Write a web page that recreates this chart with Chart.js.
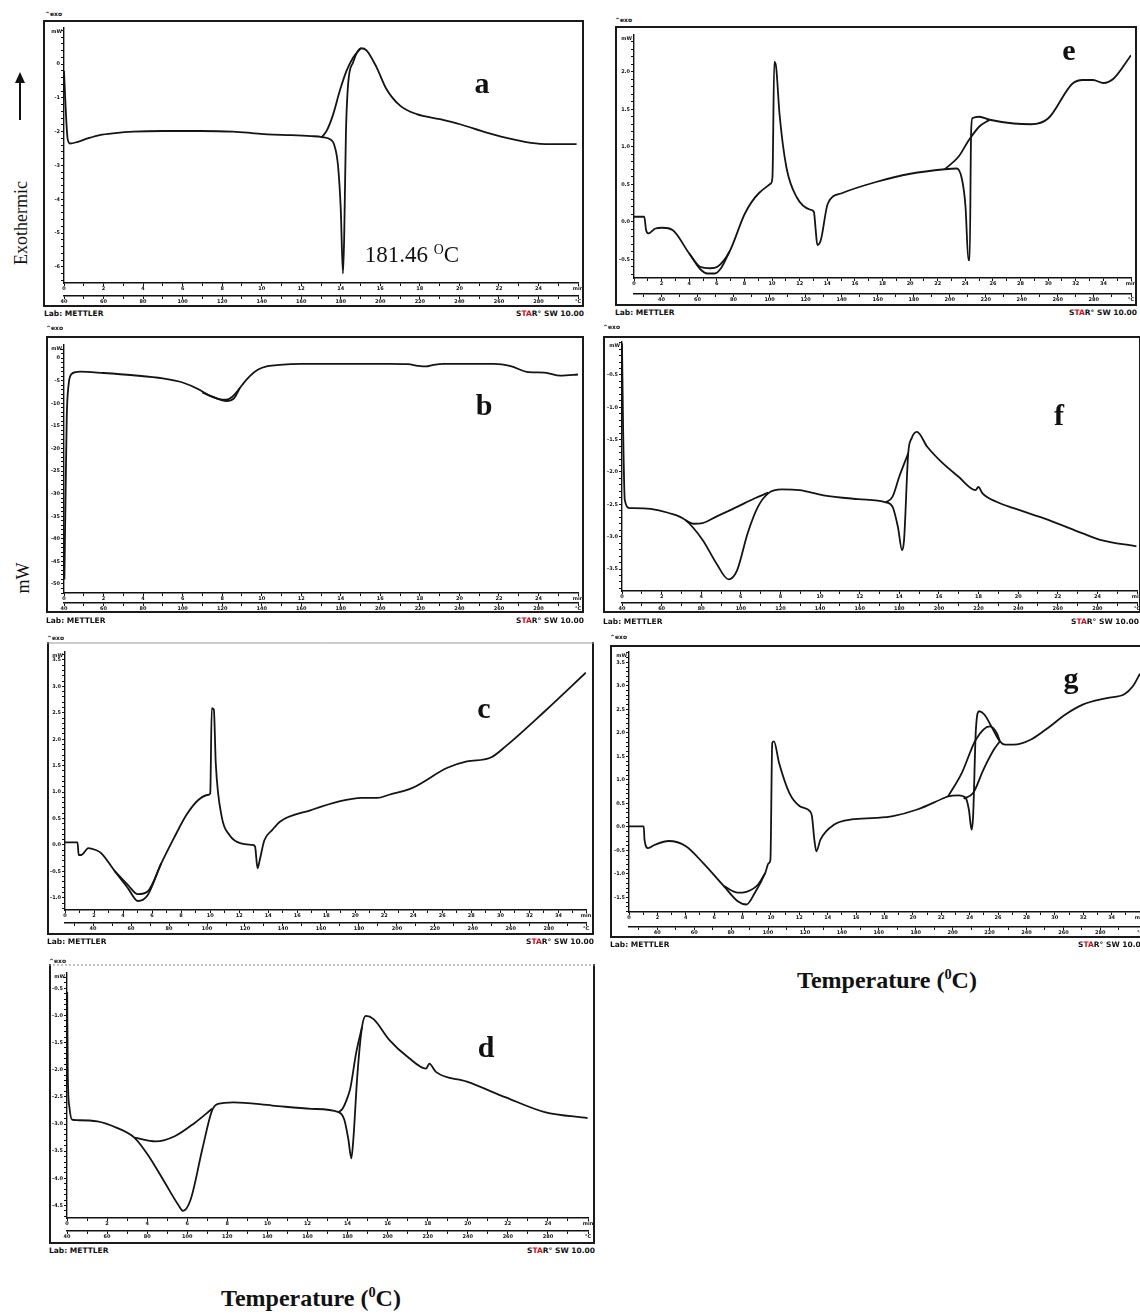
<!DOCTYPE html>
<html>
<head>
<meta charset="utf-8">
<title>DSC thermograms a-g</title>
<script src="https://cdn.jsdelivr.net/npm/chart.js@4.4.1/dist/chart.umd.min.js"></script>
<style>
  html, body { margin: 0; padding: 0; background: #fff; }
  body { position: relative; width: 1140px; height: 1314px; overflow: hidden; font-family: "Liberation Serif", "Times New Roman", serif; color: #111; }
  canvas { position: absolute; }
  .tag { position: absolute; font-family: "DejaVu Sans", sans-serif; font-weight: bold; font-size: 7.5px; line-height: 8px; white-space: nowrap; }
  .exo { font-size: 6px; }
  .red { color: #c8101c; }
  .letter { position: absolute; font-weight: bold; font-size: 30px; line-height: 30px; transform: translate(-50%, -50%); }
  .title { position: absolute; font-weight: bold; font-size: 24px; line-height: 26px; white-space: nowrap; transform: translate(-50%, -50%); }
  .side { position: absolute; font-size: 18px; line-height: 20px; white-space: nowrap; transform: translate(-50%, -50%) rotate(-90deg); }
  sup { font-size: 60%; vertical-align: 0.6em; line-height: 0; }
</style>
</head>
<body>

<!-- left-hand axis words -->
<div style="position:absolute;left:19px;top:82px;width:2px;height:38px;background:#111"></div>
<div style="position:absolute;left:15px;top:72px;width:0;height:0;border-left:5px solid transparent;border-right:5px solid transparent;border-bottom:11px solid #111"></div>
<div class="side" style="left:21px;top:223px">Exothermic</div>
<div class="side" style="left:23px;top:578px">mW</div>

<!-- instrument captions -->
<div class="tag exo" style="left:45px;top:10px">^exo</div>
<div class="tag exo" style="left:46px;top:324px">^exo</div>
<div class="tag exo" style="left:47px;top:634px">^exo</div>
<div class="tag exo" style="left:49px;top:957px">^exo</div>
<div class="tag exo" style="left:615px;top:16px">^exo</div>
<div class="tag exo" style="left:603px;top:323px">^exo</div>
<div class="tag exo" style="left:610px;top:633px">^exo</div>

<div class="tag" style="left:44px;top:310px">Lab: METTLER</div>
<div class="tag" style="left:46px;top:617px">Lab: METTLER</div>
<div class="tag" style="left:47px;top:938px">Lab: METTLER</div>
<div class="tag" style="left:49px;top:1247px">Lab: METTLER</div>
<div class="tag" style="left:615px;top:309px">Lab: METTLER</div>
<div class="tag" style="left:603px;top:618px">Lab: METTLER</div>
<div class="tag" style="left:610px;top:941px">Lab: METTLER</div>

<div class="tag" style="right:556px;top:310px">S<span class="red">TA</span>R° SW 10.00</div>
<div class="tag" style="right:556px;top:617px">S<span class="red">TA</span>R° SW 10.00</div>
<div class="tag" style="right:546px;top:938px">S<span class="red">TA</span>R° SW 10.00</div>
<div class="tag" style="right:545px;top:1247px">S<span class="red">TA</span>R° SW 10.00</div>
<div class="tag" style="right:3px;top:309px">S<span class="red">TA</span>R° SW 10.00</div>
<div class="tag" style="right:1px;top:618px">S<span class="red">TA</span>R° SW 10.00</div>
<div class="tag" style="right:-6px;top:941px">S<span class="red">TA</span>R° SW 10.00</div>

<div class="title" style="left:311px;top:1298px">Temperature (<sup>0</sup>C)</div>
<div class="title" style="left:887px;top:980px">Temperature (<sup>0</sup>C)</div>

<script>
'use strict';

// ---- panel a ----
const aTemp = [40.0, 40.6, 41.8, 43, 47, 52, 58, 66, 75, 90, 109, 125.5, 135, 143, 155, 165, 170.5, 175, 176.5, 178.6, 180, 181.1, 181.7, 182.6, 183.7, 186.2, 190.2, 193, 198, 203, 210, 218.4, 230.2, 240.3, 253.8, 267.3, 280.8, 299.3];
const aHeat = [-0.2, -1.0, -2.2, -2.35, -2.3, -2.2, -2.1, -2.04, -2.0, -1.98, -1.98, -2.0, -2.04, -2.08, -2.1, -2.13, -2.16, -2.24, -2.36, -3.0, -4.3, -6.2, -5.2, -2.07, -0.6, 0.05, 0.47, 0.41, -0.08, -0.73, -1.23, -1.48, -1.63, -1.78, -2.03, -2.23, -2.36, -2.37];
const aBaseTemp = [170.5, 172.9, 176.2, 179.5, 182.9, 186.2, 190.2];
const aBaseHeat = [-2.16, -1.97, -1.48, -0.79, -0.2, 0.19, 0.47];
const aYTicks = [0, -1, -2, -3, -4, -5, -6];

// ---- panel b ----
const bTemp = [40.2, 40.8, 41.4, 42.3, 43.5, 46, 48, 60, 75, 90, 100, 108, 113, 118, 122, 125, 127, 130, 134, 138, 143, 149, 160, 180, 205, 214, 219, 223, 227, 232, 257.5, 266, 275, 283, 291, 301];
const bHeat = [-49, -30, -13, -6, -3.7, -3.1, -3.0, -3.3, -3.8, -4.5, -5.4, -6.9, -8.2, -9.0, -9.2, -8.6, -7.7, -6.0, -4.0, -2.6, -1.8, -1.5, -1.3, -1.3, -1.3, -1.35, -1.7, -1.85, -1.5, -1.3, -1.3, -1.8, -3.1, -3.2, -3.9, -3.6];
const bBaseTemp = [110, 116, 122, 126, 129];
const bBaseHeat = [-7.6, -8.7, -9.5, -8.9, -6.6];
const bYTicks = [0, -5, -10, -15, -20, -25, -30, -35, -40, -45, -50];

// ---- panel c ----
const cTemp = [25.2, 31.8, 32.4, 33.8, 37.5, 41, 44.1, 51.3, 58.4, 63.6, 68.7, 75.9, 83.0, 89.2, 95.4, 100.9, 101.7, 102.5, 103.6, 104.6, 107.7, 111.8, 117.9, 124.1, 125.3, 126.6, 127.8, 130.2, 134.3, 138.4, 154.8, 169.2, 181.5, 189.7, 195.9, 208.2, 226.6, 236.9, 249.2, 257.4, 277.9, 299.5];
const cHeat = [0.05, 0.05, -0.19, -0.19, -0.06, -0.09, -0.15, -0.49, -0.82, -1.06, -0.95, -0.35, 0.16, 0.57, 0.85, 0.95, 0.98, 2.59, 2.56, 1.55, 0.54, 0.19, 0.03, 0.0, -0.03, -0.44, -0.28, 0.09, 0.28, 0.44, 0.66, 0.82, 0.89, 0.89, 0.95, 1.08, 1.46, 1.58, 1.65, 1.87, 2.53, 3.26];
const cDipTemp = [51.3, 58.4, 63.6, 68.7, 75.9];
const cDipHeat = [-0.49, -0.76, -0.93, -0.88, -0.35];
const cYTicks = [3.5, 3.0, 2.5, 2.0, 1.5, 1.0, 0.5, 0.0, -0.5, -1.0];

// ---- panel d ----
const dTemp = [40.1, 40.4, 41.2, 42.5, 45, 55.1, 64.9, 73.6, 80.4, 88.2, 95.9, 97.9, 101.7, 107.6, 112.4, 115.3, 123.1, 142.5, 161.9, 175.5, 178.4, 180.4, 181.9, 182.9, 184.9, 187.2, 189.1, 193, 200.8, 210.5, 219.2, 220.8, 224.1, 239.6, 259, 278.4, 299.8];
const dHeat = [-0.57, -2.1, -2.69, -2.92, -2.93, -2.95, -3.07, -3.25, -3.57, -4.04, -4.51, -4.6, -4.39, -3.45, -2.75, -2.63, -2.6, -2.66, -2.72, -2.78, -2.92, -3.28, -3.63, -3.28, -2.1, -1.22, -1.01, -1.07, -1.45, -1.78, -1.98, -1.89, -2.04, -2.22, -2.51, -2.78, -2.89];
const dBase1Temp = [73.6, 84.3, 94, 103.7, 112.4];
const dBase1Heat = [-3.25, -3.32, -3.22, -2.98, -2.72];
const dBase2Temp = [175.5, 177.5, 179.4, 181.4, 184.3, 187.2];
const dBase2Heat = [-2.78, -2.72, -2.57, -2.34, -1.69, -1.22];
const dYTicks = [-0.5, -1.0, -1.5, -2.0, -2.5, -3.0, -3.5, -4.0, -4.5];

// ---- panel e ----
const eTemp = [24.7, 30.4, 31.4, 32.7, 36.6, 40.4, 46.1, 55.3, 61.4, 67.2, 71, 77.7, 86.3, 94, 100.7, 101.6, 102.6, 103.6, 105.5, 109.3, 115, 122.7, 124.6, 125.6, 126.5, 128.5, 132.3, 140, 159.1, 178.2, 197.3, 204, 206.9, 208.8, 210.4, 211.1, 211.9, 212.6, 216.5, 222.2, 235.6, 245.2, 254.8, 268.1, 273.9, 279.6, 285.4, 291.1, 300.7];
const eHeat = [0.067, 0.067, -0.11, -0.155, -0.09, -0.08, -0.11, -0.42, -0.6, -0.62, -0.6, -0.4, 0.11, 0.38, 0.51, 0.6, 2.13, 2.07, 1.44, 0.73, 0.33, 0.16, 0.13, -0.11, -0.31, -0.24, 0.24, 0.38, 0.53, 0.64, 0.70, 0.71, 0.56, 0.2, -0.51, -0.51, 1.18, 1.38, 1.4, 1.36, 1.31, 1.3, 1.38, 1.84, 1.89, 1.89, 1.85, 1.91, 2.22];
const eDipTemp = [55.3, 61.4, 65.5, 69.5, 73, 77.7];
const eDipHeat = [-0.42, -0.63, -0.69, -0.69, -0.62, -0.4];
const eBaseTemp = [197.3, 205, 210.7, 216.5, 222.2];
const eBaseHeat = [0.70, 0.87, 1.09, 1.27, 1.36];
const eYTicks = [2.0, 1.5, 1.0, 0.5, 0.0, -0.5];

// ---- panel f ----
const fTemp = [40, 40.5, 41.4, 44, 45.8, 54.5, 63.2, 71.9, 80.7, 87.6, 93.8, 98.1, 103.4, 108.6, 113.8, 120.8, 129.5, 141.7, 159.2, 173.2, 176.6, 179.3, 181.4, 182.4, 184.5, 186.2, 188.9, 194.1, 201.1, 209.8, 218.5, 219.9, 222, 229, 237.7, 255.2, 272.6, 281.4, 299.7];
const fHeat = [-0.01, -1.2, -2.43, -2.56, -2.56, -2.57, -2.63, -2.74, -3.05, -3.41, -3.66, -3.52, -2.95, -2.54, -2.33, -2.27, -2.28, -2.36, -2.42, -2.47, -2.54, -2.85, -3.21, -3.05, -1.71, -1.48, -1.38, -1.61, -1.84, -2.07, -2.28, -2.23, -2.33, -2.46, -2.56, -2.74, -2.95, -3.05, -3.15];
const fBase1Temp = [71.9, 76, 80.7, 87.6, 98.1, 106.8, 113.8];
const fBase1Heat = [-2.74, -2.8, -2.79, -2.69, -2.54, -2.41, -2.32];
const fBase2Temp = [173.2, 176.6, 180, 184.5];
const fBase2Heat = [-2.47, -2.38, -2.07, -1.71];
const fYTicks = [-0.5, -1.0, -1.5, -2.0, -2.5, -3.0, -3.5];

// ---- panel g ----
const gTemp = [24.7, 32.7, 33.1, 35, 38.7, 46.2, 55.5, 64.9, 76.1, 83.6, 88.3, 92.9, 98.5, 100.4, 101.3, 102.3, 103.2, 106, 111.6, 117.2, 122.8, 123.8, 125.1, 126.2, 128.4, 135.9, 145.3, 158.3, 167.7, 180.8, 195.7, 197.6, 203.2, 207, 208.8, 210.3, 211.1, 212.6, 214.4, 217.2, 221.9, 225.6, 228.4, 233.1, 242.5, 251.8, 261.1, 270.5, 283.6, 293, 297.6, 301.5];
const gHeat = [0.01, 0.01, -0.27, -0.45, -0.38, -0.3, -0.41, -0.77, -1.26, -1.58, -1.65, -1.4, -0.98, -0.77, -0.7, 1.79, 1.82, 1.36, 0.72, 0.44, 0.33, 0.23, -0.27, -0.52, -0.27, 0.05, 0.16, 0.19, 0.23, 0.37, 0.62, 0.65, 0.67, 0.62, 0.37, -0.06, 0.23, 2.07, 2.46, 2.39, 2.07, 1.82, 1.75, 1.75, 1.86, 2.11, 2.39, 2.6, 2.74, 2.82, 2.99, 3.26];
const gDipTemp = [76.1, 83.6, 88.3, 94.5, 98.5];
const gDipHeat = [-1.26, -1.40, -1.38, -1.23, -0.98];
const gBase1Temp = [197.6, 205, 212.6, 220.1, 223.9, 225.6];
const gBase1Heat = [0.65, 1.15, 1.86, 2.14, 2.0, 1.82];
const gBase2Temp = [206, 211.1, 216.7, 222.3, 225.6];
const gBase2Heat = [0.6, 0.72, 1.22, 1.64, 1.82];
const gYTicks = [3.5, 3.0, 2.5, 2.0, 1.5, 1.0, 0.5, 0.0, -0.5, -1.0, -1.5];

// shared x tick labels (°C and min)
const degTicks = [40, 60, 80, 100, 120, 140, 160, 180, 200, 220, 240, 260, 280];
const minTicksShort = [0, 2, 4, 6, 8, 10, 12, 14, 16, 18, 20, 22, 24];
const minTicksLong = [0, 2, 4, 6, 8, 10, 12, 14, 16, 18, 20, 22, 24, 26, 28, 30, 32, 34];

function pts(xs, ys) {
    return xs.map((x, i) => ({ x: x, y: ys[i] }));
}

function steps(from, to, step) {
    const out = [];
    for (let k = Math.ceil(from / step - 1e-9); k * step <= to + 1e-9; k++) {
        out.push(+(k * step).toFixed(6));
    }
    return out;
}

function hasLabel(list, v) {
    return list.some(l => Math.abs(l - v) < 1e-6);
}

// minor ticks plus one tick at the right end that carries the unit
function unitTicks(lo, hi, step) {
    return steps(lo, hi - step * 0.5, step).concat([hi]).map(v => ({ value: v }));
}

// instrument-style frame round each panel, plus the mW tag
const framePlugin = {
    id: 'frame',
    afterDraw(chart, args, opts) {
        const ctx = chart.ctx;
        const w = chart.width, h = chart.height, area = chart.chartArea;
        ctx.save();
        ctx.strokeStyle = '#1a1a1a';
        ctx.lineWidth = 2;
        ctx.beginPath();
        ctx.moveTo(1, 0);
        ctx.lineTo(1, h - 1);
        ctx.lineTo(w - 1, h - 1);
        ctx.lineTo(w - 1, 0);
        ctx.stroke();
        if (opts.top === 'dash') {
            ctx.setLineDash([2, 2]);
            ctx.strokeStyle = '#8a8a8a';
            ctx.lineWidth = 1;
        } else if (opts.top === 'thin') {
            ctx.strokeStyle = '#9a9a9a';
            ctx.lineWidth = 1;
        }
        ctx.beginPath();
        ctx.moveTo(0, 1);
        ctx.lineTo(w, 1);
        ctx.stroke();
        ctx.setLineDash([]);
        ctx.fillStyle = '#111';
        ctx.font = 'bold 5px "DejaVu Sans"';
        ctx.textAlign = 'right';
        ctx.textBaseline = 'top';
        ctx.fillText('mW', area.left - 2, area.top + 1);
        ctx.restore();
    }
};

const panels = [
    { box: [43, 20, 584, 307], plot: [64, 28, 578, 283, 296], y: [-6.48, 1.07], yStep: 0.2, yLabels: aYTicks, yDec: 0,
      t: [40, 300], m: [0, 26], mLabels: minTicksShort, top: 'solid',
      series: [[aTemp, aHeat], [aBaseTemp, aBaseHeat]] },
    { box: [46, 336, 584, 613], plot: [64, 345, 578, 593, 603], y: [-52, 2.9], yStep: 1, yLabels: bYTicks, yDec: 0,
      t: [40, 300], m: [0, 26], mLabels: minTicksShort, top: 'solid',
      series: [[bTemp, bHeat], [bBaseTemp, bBaseHeat]] },
    { box: [47, 642, 594, 935], plot: [65, 652, 586, 910, 923], y: [-1.23, 3.65], yStep: 0.1, yLabels: cYTicks, yDec: 1,
      t: [25.2, 299.6], m: [0, 35.9], mLabels: minTicksLong, top: 'thin',
      series: [[cTemp, cHeat], [cDipTemp, cDipHeat]] },
    { box: [49, 964, 595, 1244], plot: [67, 973, 588, 1218, 1231], y: [-4.73, -0.22], yStep: 0.1, yLabels: dYTicks, yDec: 1,
      t: [40, 300], m: [0, 26], mLabels: minTicksShort, top: 'dash',
      series: [[dTemp, dHeat], [dBase1Temp, dBase1Heat], [dBase2Temp, dBase2Heat]] },
    { box: [615, 26, 1137, 306], plot: [634, 35, 1131, 278, 294], y: [-0.75, 2.49], yStep: 0.1, yLabels: eYTicks, yDec: 1,
      t: [24.7, 300.7], m: [0, 36], mLabels: minTicksLong, top: 'solid',
      series: [[eTemp, eHeat], [eDipTemp, eDipHeat], [eBaseTemp, eBaseHeat]] },
    { box: [603, 336, 1141, 613], plot: [622, 342, 1137, 591, 603], y: [-3.84, 0.01], yStep: 0.1, yLabels: fYTicks, yDec: 1,
      t: [40, 300], m: [0, 26], mLabels: minTicksShort, top: 'solid',
      series: [[fTemp, fHeat], [fBase1Temp, fBase1Heat], [fBase2Temp, fBase2Heat]] },
    { box: [610, 645, 1142, 938], plot: [629, 652, 1140, 912, 927], y: [-1.81, 3.72], yStep: 0.1, yLabels: gYTicks, yDec: 1,
      t: [24.7, 301.5], m: [0, 36], mLabels: minTicksLong, top: 'solid', dashMin: true,
      series: [[gTemp, gHeat], [gDipTemp, gDipHeat], [gBase1Temp, gBase1Heat], [gBase2Temp, gBase2Heat]] }
];

function makePanel(p) {
    const [L, T, R, B] = p.box;
    const [pl, pt, pr, pm, pc] = p.plot;
    const w = R - L, h = B - T;
    const cv = document.createElement('canvas');
    cv.width = w;
    cv.height = h;
    cv.style.left = L + 'px';
    cv.style.top = T + 'px';
    cv.style.width = w + 'px';
    cv.style.height = h + 'px';
    document.body.insertBefore(cv, document.body.firstChild);

    const tickFont = { family: 'DejaVu Sans', size: 5, weight: 'bold' };
    const grid = { drawOnChartArea: false, drawTicks: true, tickLength: 3, color: '#111', lineWidth: 1 };
    const fmt = v => p.yDec ? v.toFixed(p.yDec) : String(Math.round(v));

    new Chart(cv, {
        type: 'scatter',
        data: {
            datasets: p.series.map(s => ({
                data: pts(s[0], s[1]),
                xAxisID: 'x',
                yAxisID: 'y',
                showLine: true,
                borderColor: '#141414',
                borderWidth: 1.8,
                pointRadius: 0,
                cubicInterpolationMode: 'monotone',
                fill: false
            }))
        },
        options: {
            responsive: false,
            animation: false,
            events: [],
            layout: { padding: { left: 0, top: pt - T, right: R - pr, bottom: 0 } },
            plugins: {
                legend: { display: false },
                tooltip: { enabled: false },
                frame: { top: p.top }
            },
            scales: {
                y: {
                    type: 'linear', position: 'left', min: p.y[0], max: p.y[1],
                    afterBuildTicks: s => { s.ticks = steps(p.y[0], p.y[1], p.yStep).map(v => ({ value: v })); },
                    afterFit: s => { s.width = pl - L; s.paddingTop = 0; s.paddingBottom = 0; },
                    ticks: { autoSkip: false, font: tickFont, color: '#111', padding: 1,
                             callback: v => hasLabel(p.yLabels, v) ? fmt(v) : '' },
                    grid: grid,
                    border: { color: '#111', width: 1.4 }
                },
                xm: {
                    type: 'linear', axis: 'x', position: 'bottom', weight: 0, min: p.m[0], max: p.m[1],
                    afterBuildTicks: s => { s.ticks = unitTicks(p.m[0], p.m[1], 1); },
                    afterFit: s => { s.height = pc - pm; s.paddingLeft = 0; s.paddingRight = 0; },
                    ticks: { autoSkip: false, maxRotation: 0, minRotation: 0, font: tickFont, color: '#111', padding: 0,
                             callback: v => Math.abs(v - p.m[1]) < 1e-6 ? 'min' : (hasLabel(p.mLabels, v) ? String(v) : '') },
                    grid: grid,
                    border: { color: '#111', width: 1.4, dash: p.dashMin ? [3, 2] : [] }
                },
                x: {
                    type: 'linear', position: 'bottom', weight: 1, min: p.t[0], max: p.t[1],
                    afterBuildTicks: s => { s.ticks = unitTicks(p.t[0], p.t[1], 10); },
                    afterFit: s => { s.height = B - pc; s.paddingLeft = 0; s.paddingRight = 0; },
                    ticks: { autoSkip: false, maxRotation: 0, minRotation: 0, font: tickFont, color: '#111', padding: 0,
                             callback: v => Math.abs(v - p.t[1]) < 1e-6 ? '°C' : (hasLabel(degTicks, v) ? String(v) : '') },
                    grid: grid,
                    border: { color: '#111', width: 1.4 }
                }
            }
        },
        plugins: [framePlugin]
    });
}

panels.forEach(makePanel);
</script>

<!-- panel letters and the melting-point note, on top of the canvases -->
<div class="letter" style="left:482px;top:83px">a</div>
<div class="letter" style="left:484px;top:405px">b</div>
<div class="letter" style="left:484px;top:708px">c</div>
<div class="letter" style="left:486px;top:1047px">d</div>
<div class="letter" style="left:1069px;top:50px">e</div>
<div class="letter" style="left:1059px;top:415px">f</div>
<div class="letter" style="left:1071px;top:678px">g</div>
<div class="title" style="left:412px;top:255px;font-weight:normal;font-size:23px">181.46 <sup>O</sup>C</div>

</body>
</html>
